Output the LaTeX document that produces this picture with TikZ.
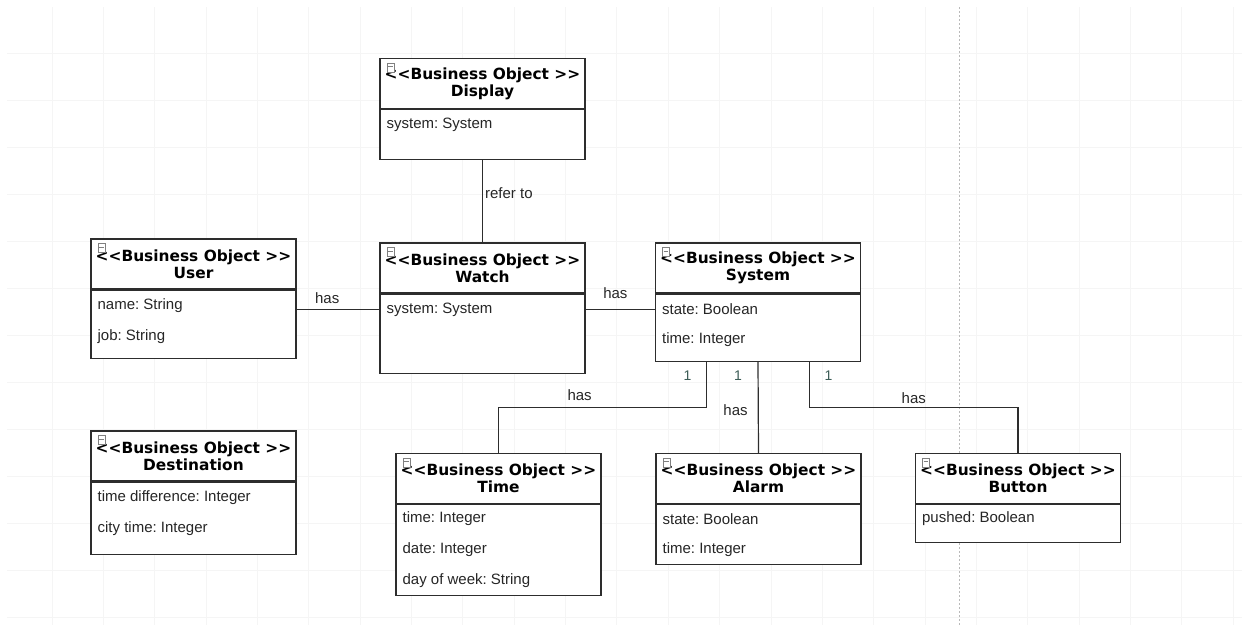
\documentclass[tikz,border=0pt]{standalone}
\usepackage{fontspec}
\setmainfont{Liberation Sans}
\newfontfamily\headfont{DejaVu Sans}
\usepackage{tikz}
\usetikzlibrary{positioning,calc}
\frenchspacing

\definecolor{gridgray}{RGB}{245,245,245}
\definecolor{boxline}{RGB}{45,45,45}
\definecolor{multgreen}{RGB}{60,92,86}

\begin{document}
\begin{tikzpicture}
[
	x=1pt, y=-1pt,
	head/.style={rectangle,draw=boxline,line width=1.2pt,fill=white,minimum width=205pt,minimum height=50pt,inner sep=0pt,align=center,font=\headfont\bfseries\fontsize{15.4}{17}\selectfont},
	body/.style={rectangle,draw=boxline,line width=1.2pt,fill=white,minimum width=205pt,inner sep=0pt},
	attr/.style={anchor=west,inner sep=0pt,text=black!85,font=\fontsize{15}{17}\selectfont},
	lbl/.style={inner sep=1pt,text=black!85,font=\fontsize{15}{17}\selectfont},
	mult/.style={inner sep=1pt,text=multgreen,font=\fontsize{14}{16}\selectfont},
	icon/.style={rectangle,draw=gray,fill=white,line width=0.7pt,minimum width=7pt,minimum height=9pt,inner sep=0pt},
	link/.style={draw=boxline,line width=1.2pt},
]
	\useasboundingbox (0,0) rectangle (1242,625);

	% background grid
	\foreach \x in {0,...,23}
		\draw[gridgray,line width=0.8pt] ({52+51.35*\x},7) -- ({52+51.35*\x},625);
	\foreach \y in {0,...,12}
		\draw[gridgray,line width=0.8pt] (7,{53+47*\y}) -- (1242,{53+47*\y});
	\draw[gray!55,line width=0.7pt,dash pattern=on 2pt off 2pt] (959,7) -- (959,625);

	% Display
	\node[head] (disp) at (482.5,83.5) {<<Business Object >>\\Display};
	\node[body,minimum height=50pt,below=0pt of disp] (disp-b) {};
	\node[attr] (disp-a1) at ($(disp-b.north west)+(7,16)$) {system: System};

	% User
	\node[head] (user) at (193.5,264) {<<Business Object >>\\User};
	\node[body,minimum height=68pt,below=0pt of user] (user-b) {};
	\node[attr] (user-a1) at ($(user-b.north west)+(7,16)$) {name: String};
	\node[attr] (user-a2) at ($(user-b.north west)+(7,47)$) {job: String};

	% Watch
	\node[head] (watch) at (482.5,268) {<<Business Object >>\\Watch};
	\node[body,minimum height=79pt,below=0pt of watch] (watch-b) {};
	\node[attr] (watch-a1) at ($(watch-b.north west)+(7,16)$) {system: System};

	% System
	\node[head] (sys) at (758,268) {<<Business Object >>\\System};
	\node[body,minimum height=67pt,below=0pt of sys] (sys-b) {};
	\node[attr] (sys-a1) at ($(sys-b.north west)+(7,16)$) {state: Boolean};
	\node[attr] (sys-a2) at ($(sys-b.north west)+(7,46)$) {time: Integer};

	% Destination
	\node[head] (dest) at (193.5,456) {<<Business Object >>\\Destination};
	\node[body,minimum height=72pt,below=0pt of dest] (dest-b) {};
	\node[attr] (dest-a1) at ($(dest-b.north west)+(7,16)$) {time difference: Integer};
	\node[attr] (dest-a2) at ($(dest-b.north west)+(7,47)$) {city time: Integer};

	% Time
	\node[head] (time) at (498.5,478.5) {<<Business Object >>\\Time};
	\node[body,minimum height=91pt,below=0pt of time] (time-b) {};
	\node[attr] (time-a1) at ($(time-b.north west)+(7,15)$) {time: Integer};
	\node[attr] (time-a2) at ($(time-b.north west)+(7,46)$) {date: Integer};
	\node[attr] (time-a3) at ($(time-b.north west)+(7,77)$) {day of week: String};

	% Alarm
	\node[head] (alarm) at (758.5,478.5) {<<Business Object >>\\Alarm};
	\node[body,minimum height=60pt,below=0pt of alarm] (alarm-b) {};
	\node[attr] (alarm-a1) at ($(alarm-b.north west)+(7,15)$) {state: Boolean};
	\node[attr] (alarm-a2) at ($(alarm-b.north west)+(7,46)$) {time: Integer};

	% Button
	\node[head] (btn) at (1018,478.5) {<<Business Object >>\\Button};
	\node[body,minimum height=38pt,below=0pt of btn] (btn-b) {};
	\node[attr] (btn-a1) at ($(btn-b.north west)+(7,15)$) {pushed: Boolean};

	% small icons in the headers
	\foreach \n in {disp,user,watch,sys,dest,time,alarm,btn}{
		\node[icon] (\n-i) at ($(\n.north west)+(11,9.5)$) {};
		\draw[gray,line width=0.7pt] ($(\n-i.west)+(1.5,-1)$) -- ($(\n-i.east)+(-1.5,-1)$);
	}

	% links
	\draw[link] (disp-b) -- node[lbl,right,pos=0.4,xshift=1pt] {refer to} (watch);
	\draw[link] (user-b.east |- watch-a1) -- node[lbl,above=4pt,pos=0.37] {has} (watch-b.west |- watch-a1);
	\draw[link] (watch-b.east |- sys-a1) -- node[lbl,above=9pt,pos=0.43] {has} (sys-b.west |- sys-a1);

	\coordinate (sys-q1) at ($(sys-b.south west)!0.25!(sys-b.south east)$);
	\coordinate (sys-q3) at ($(sys-b.south west)!0.75!(sys-b.south east)$);

	\draw[link] (sys-q1) node[mult,xshift=-19pt,yshift=-14pt] {1}
		|- ($(sys-q1)!0.5!(time.north)$) -| node[lbl,above=5pt,pos=0.11] {has} (time.north);
	\draw[link] (sys-b.south) node[mult,xshift=-20pt,yshift=-14pt] {1}
		-- node[lbl,left=9pt,pos=0.53] {has} (alarm.north);
	\draw[link] (sys-q3) node[mult,xshift=19pt,yshift=-14pt] {1}
		|- node[lbl,above=2pt,pos=1] {has} ($(sys-q3)!0.5!(btn.north)$) -| (btn.north);
\end{tikzpicture}
\end{document}
